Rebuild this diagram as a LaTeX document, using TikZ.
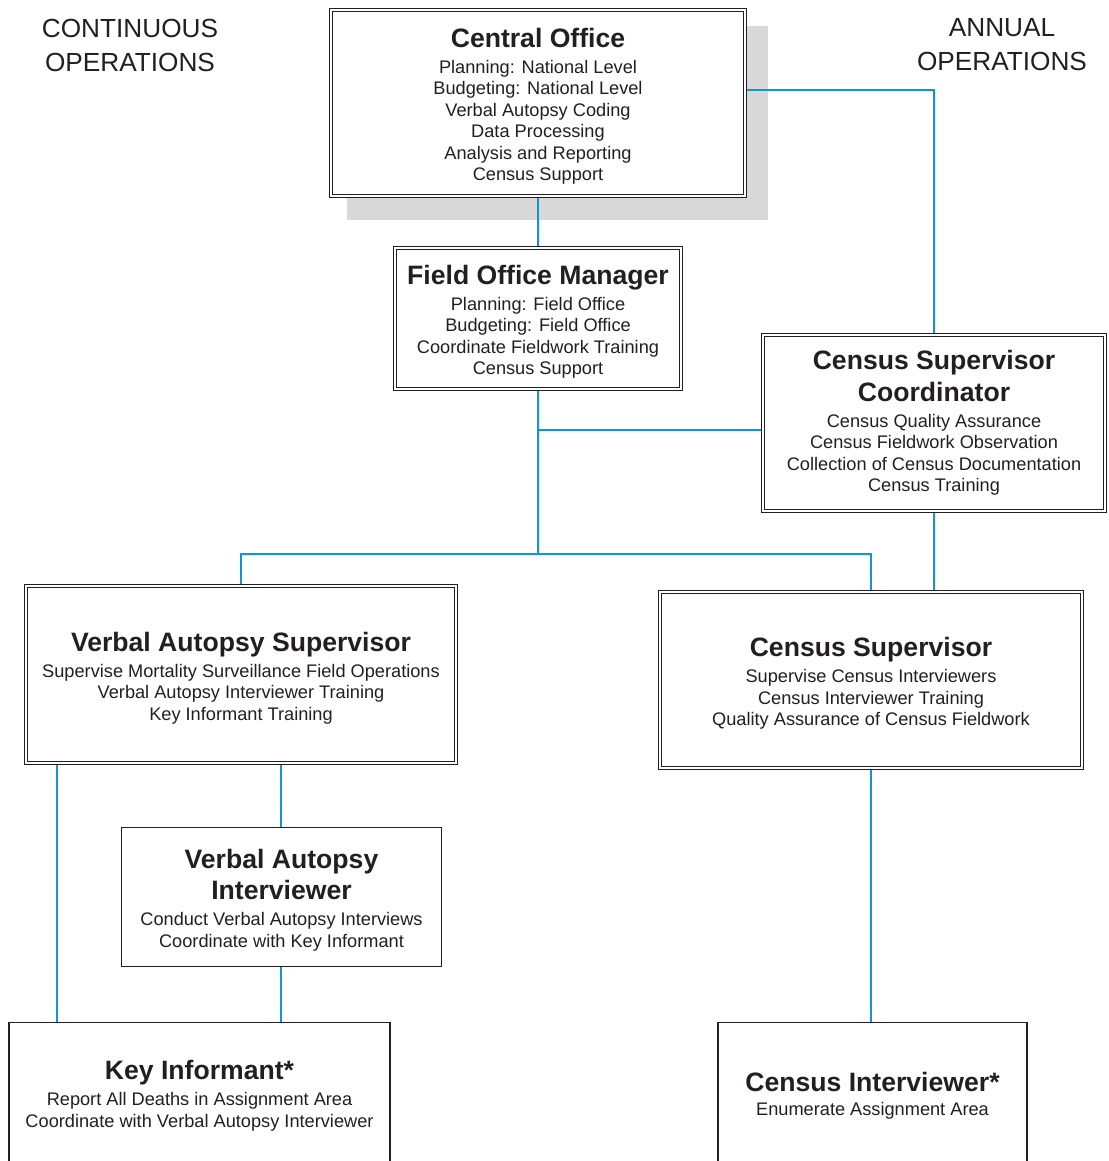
\documentclass[tikz,border=0pt]{standalone}
\usepackage{fontspec}
\setmainfont{Liberation Sans}
\definecolor{linkblue}{RGB}{16,150,212}
\definecolor{ink}{RGB}{35,31,32}
\definecolor{shadowgray}{RGB}{217,217,217}
\newcommand{\role}[1]{{\fontsize{13.3}{16}\selectfont\bfseries #1}}
\newcommand{\sink}{\rule{0pt}{12.9pt}}
\pgfdeclarelayer{shade}
\pgfdeclarelayer{wires}
\pgfsetlayers{shade,wires,main}

\begin{document}
\begin{tikzpicture}[x=0.5pt, y=-0.5pt,
  every node/.style = {align=center, text=ink, font=\fontsize{9.1}{10.75}\selectfont},
  office/.style = {draw=ink, fill=white, line width=0.55pt, double=white, double distance=1.2pt, inner sep=0pt},
  post/.style = {draw=ink, fill=white, line width=0.7pt, inner sep=0pt},
  heading/.style = {font=\fontsize{13.1}{17}\selectfont},
  link/.style = {draw=linkblue, line width=0.65pt}]
  \useasboundingbox (0,0) rectangle (1108,1161);
  \clip (0,0) rectangle (1108,1161);

  % headings
  \node[heading] (continuous) at (130,45) {CONTINUOUS\\OPERATIONS};
  \node[heading] (annual) at (1002,45) {ANNUAL\\OPERATIONS};

  % offices
  \node[office, minimum width=207pt, minimum height=93pt] (co) at (538,103)
    {\sink\role{Central Office}\\[2.25pt]
     Planning: National Level\\ Budgeting: National Level\\ Verbal Autopsy Coding\\
     Data Processing\\ Analysis and Reporting\\ Census Support};
  \node[office, minimum width=143pt, minimum height=70.5pt] (fom) at (538,318.5)
    {\sink\role{Field Office Manager}\\[2.25pt]
     Planning: Field Office\\ Budgeting: Field Office\\
     Coordinate Fieldwork Training\\ Census Support};
  \node[office, minimum width=171pt, minimum height=88pt] (csc) at (934,423)
    {\role{Census Supervisor}\\[2.25pt] \role{Coordinator}\\[2.25pt]
     Census Quality Assurance\\ Census Fieldwork Observation\\
     Collection of Census Documentation\\ Census Training};
  \node[office, minimum width=215pt, minimum height=88.5pt] (vas) at (241,674.5)
    {\sink\role{Verbal Autopsy Supervisor}\\[2.25pt]
     Supervise Mortality Surveillance Field Operations\\
     Verbal Autopsy Interviewer Training\\ Key Informant Training};
  \node[office, minimum width=211pt, minimum height=88pt] (cs) at (871,680)
    {\sink\role{Census Supervisor}\\[2.25pt]
     Supervise Census Interviewers\\ Census Interviewer Training\\
     Quality Assurance of Census Fieldwork};

  % field posts
  \node[post, minimum width=160pt, minimum height=69.5pt] (vai) at (281.5,897)
    {\sink\role{Verbal Autopsy}\\[2.25pt] \role{Interviewer}\\[2.25pt]
     Conduct Verbal Autopsy Interviews\\ Coordinate with Key Informant};
  \node[post, minimum width=190.5pt, minimum height=70pt] (ki) at (199.5,1092.5)
    {\sink\role{Key Informant*}\\[2.25pt]
     Report All Deaths in Assignment Area\\ Coordinate with Verbal Autopsy Interviewer};
  \node[post, minimum width=154.5pt, minimum height=70pt] (ci) at (872.5,1092.5)
    {\sink\role{Census Interviewer*}\\[1pt] Enumerate Assignment Area};

  \begin{pgfonlayer}{shade}
    \fill[shadowgray] ([shift={(8.5pt,-8.5pt)}]co.north west) rectangle ([shift={(11pt,-11.5pt)}]co.south east);
  \end{pgfonlayer}

  % connectors
  \coordinate (split) at (538,554);
  \coordinate (tap) at (538,430);
  \coordinate (kidrop) at (57,0);
  \coordinate (vaidrop) at (281,0);
  \begin{pgfonlayer}{wires}
    \draw[link] (co.south) -- (fom.north);
    \draw[link] ([yshift=6.5pt]co.east) -| (csc.north);
    \draw[link] (fom.south) -- (split);
    \draw[link] (tap) -- (tap -| csc.west);
    \draw[link] (vas.north) |- (split) -| (cs.north);
    \draw[link] (csc.south) -- (csc.south |- cs.north);
    \draw[link] (vas.south -| kidrop) -- (ki.north -| kidrop);
    \draw[link] (vas.south -| vaidrop) -- (vai.north -| vaidrop);
    \draw[link] (vai.south -| vaidrop) -- (ki.north -| vaidrop);
    \draw[link] (cs.south) -- (cs.south |- ci.north);
  \end{pgfonlayer}
\end{tikzpicture}
\end{document}
